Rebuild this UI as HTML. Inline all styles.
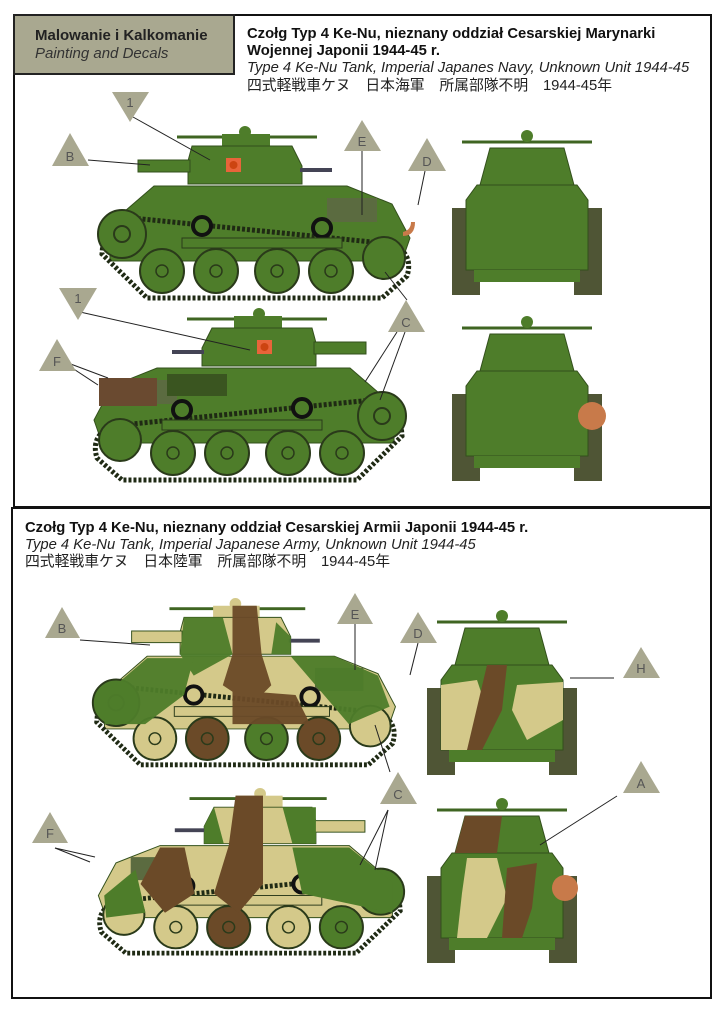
<!DOCTYPE html>
<html><head><meta charset="utf-8"><style>
html,body{margin:0;padding:0;background:#fff}
svg{display:block}
text{font-family:"Liberation Sans","Noto Sans CJK JP",sans-serif}
</style></head><body>
<svg width="724" height="1024" viewBox="0 0 724 1024" xmlns="http://www.w3.org/2000/svg">
<defs>
<g id="side">
  <line x1="85" y1="11" x2="150" y2="11" stroke="#3f6522" stroke-width="3"/>
  <line x1="165" y1="11" x2="225" y2="11" stroke="#3f6522" stroke-width="3"/>
  <circle cx="153" cy="6" r="6" fill="var(--c)"/>
  <rect x="130" y="8" width="48" height="12" fill="var(--c)"/>
  <path d="M100,20 L200,20 L210,40 L210,58 L96,58 L96,35 Z" fill="var(--c)" stroke="#33501c" stroke-width="1"/>
  <rect x="46" y="34" width="52" height="12" fill="var(--c)" stroke="#33501c" stroke-width="1"/>
  <rect x="208" y="42" width="32" height="4" fill="#445"/>
  <path d="M18,98 L62,60 L255,60 L300,78 L318,112 L310,135 L18,135 Z" fill="var(--c)" stroke="#33501c" stroke-width="1"/>
  <rect x="235" y="72" width="50" height="24" fill="#5b6b40"/>
  <path d="M12,104 Q20,85 40,92 L300,118 Q322,128 315,150 L290,172 L55,172 L10,128 Z" fill="none" stroke="#1f2a14" stroke-width="5" stroke-dasharray="3 2"/>
  <circle cx="30" cy="108" r="24" fill="var(--c2)" stroke="#2a3a1a" stroke-width="2"/>
  <circle cx="30" cy="108" r="8" fill="none" stroke="#2a3a1a" stroke-width="2"/>
  <circle cx="292" cy="132" r="21" fill="var(--c)" stroke="#2a3a1a" stroke-width="2"/>
  <circle cx="110" cy="100" r="9" fill="var(--c)" stroke="#111" stroke-width="4"/>
  <circle cx="230" cy="102" r="9" fill="var(--c)" stroke="#111" stroke-width="4"/>
  <rect x="90" y="112" width="160" height="10" fill="var(--c)" stroke="#2a3a1a" stroke-width="1"/>
  <g stroke="#2a3a1a" stroke-width="2">
   <circle cx="70" cy="145" r="22" fill="var(--w1)"/>
   <circle cx="124" cy="145" r="22" fill="var(--w2)"/>
   <circle cx="185" cy="145" r="22" fill="var(--w3)"/>
   <circle cx="239" cy="145" r="22" fill="var(--w4)"/>
  </g>
  <g fill="none" stroke="#2a3a1a" stroke-width="1.5">
   <circle cx="70" cy="145" r="6"/><circle cx="124" cy="145" r="6"/><circle cx="185" cy="145" r="6"/><circle cx="239" cy="145" r="6"/>
  </g>
</g>
<g id="front">
  <line x1="10" y1="12" x2="140" y2="12" stroke="#3f6522" stroke-width="3"/>
  <circle cx="75" cy="6" r="6" fill="var(--c)"/>
  <path d="M38,18 L112,18 L122,55 L28,55 Z" fill="var(--c)" stroke="#33501c"/>
  <rect x="0" y="78" width="28" height="87" fill="#4f5535"/>
  <rect x="122" y="78" width="28" height="87" fill="#4f5535"/>
  <path d="M25,55 L125,55 L136,70 L136,140 L14,140 L14,70 Z" fill="var(--c)" stroke="#33501c"/>
  <rect x="22" y="140" width="106" height="12" fill="var(--c)"/>
</g>
</defs>

<rect x="14" y="15" width="697" height="492" fill="none" stroke="#111" stroke-width="2"/>
<rect x="12" y="508" width="699" height="490" fill="none" stroke="#111" stroke-width="2"/>
<rect x="14" y="15" width="220" height="59" fill="#a9a890" stroke="#222" stroke-width="2"/>
<text x="35" y="40" font-size="15" font-weight="bold" fill="#222">Malowanie i Kalkomanie</text>
<text x="35" y="58" font-size="15" font-style="italic" fill="#333">Painting and Decals</text>

<text x="247" y="38" font-size="14.8" font-weight="bold" fill="#111">Czołg Typ 4 Ke-Nu, nieznany oddział Cesarskiej Marynarki</text>
<text x="247" y="55" font-size="14.8" font-weight="bold" fill="#111">Wojennej Japonii 1944-45 r.</text>
<text x="247" y="72" font-size="14.8" font-style="italic" fill="#222">Type 4 Ke-Nu Tank, Imperial Japanes Navy, Unknown Unit 1944-45</text>
<text x="247" y="90" font-size="14.8" fill="#222">四式軽戦車ケヌ　日本海軍　所属部隊不明　1944-45年</text>

<text x="25" y="532" font-size="14.8" font-weight="bold" fill="#111">Czołg Typ 4 Ke-Nu, nieznany oddział Cesarskiej Armii Japonii 1944-45 r.</text>
<text x="25" y="549" font-size="14.8" font-style="italic" fill="#222">Type 4 Ke-Nu Tank, Imperial Japanese Army, Unknown Unit 1944-45</text>
<text x="25" y="566" font-size="14.8" fill="#222">四式軽戦車ケヌ　日本陸軍　所属部隊不明　1944-45年</text>

<g transform="translate(92,126)" style="--c:#4e7d2a;--c2:#4e7d2a;--w1:#4e7d2a;--w2:#4e7d2a;--w3:#4e7d2a;--w4:#4e7d2a"><use href="#side"/>
 <rect x="134" y="32" width="15" height="14" fill="#e8643a"/><circle cx="141.5" cy="39" r="4" fill="#c41"/></g>
<g transform="translate(412,308) scale(-1,1)" style="--c:#4e7d2a;--c2:#4e7d2a;--w1:#4e7d2a;--w2:#4e7d2a;--w3:#4e7d2a;--w4:#4e7d2a"><use href="#side"/>
 <rect x="140" y="32" width="15" height="14" fill="#e8643a"/><circle cx="147.5" cy="39" r="4" fill="#c41"/>
 <rect x="255" y="70" width="58" height="28" fill="#6a4a30"/>
 <rect x="185" y="66" width="60" height="22" fill="#3a5520"/></g>
<g transform="translate(452,130)" style="--c:#4e7d2a"><use href="#front"/></g>
<g transform="translate(452,316)" style="--c:#4e7d2a"><use href="#front"/><circle cx="140" cy="100" r="14" fill="#c87a4a"/></g>
<path d="M403,232 q8,-2 8,-10 l4,0 q0,14 -12,14 z" fill="#c87a4a"/>

<g transform="translate(87,598) scale(0.97)" style="--c:#d4c98a;--c2:#4e7d2a;--w1:#d4c98a;--w2:#6b4a28;--w3:#4e7d2a;--w4:#6b4a28"><use href="#side"/>
 <g opacity="0.95">
  <path d="M100,20 L140,20 L150,58 L110,80 L96,58 Z" fill="#4e7d2a"/>
  <path d="M150,8 L175,8 L180,58 L190,90 L170,110 L140,90 L150,58 Z" fill="#6b4a28"/>
  <path d="M20,98 L62,62 L110,62 L100,100 L60,130 L18,130 Z" fill="#4e7d2a"/>
  <path d="M210,60 L255,60 L300,80 L312,112 L270,130 L240,95 Z" fill="#4e7d2a"/>
  <path d="M195,25 L210,40 L210,58 L190,58 Z" fill="#4e7d2a"/>
  <path d="M150,95 L215,100 L230,130 L150,130 Z" fill="#6b4a28"/>
 </g></g>
<g transform="translate(410,788) scale(-0.98,0.96)" style="--c:#d4c98a;--c2:#4e7d2a;--w1:#4e7d2a;--w2:#d4c98a;--w3:#6b4a28;--w4:#d4c98a"><use href="#side"/>
 <path d="M96,20 L130,20 L120,58 L96,58 Z" fill="#4e7d2a"/>
 <path d="M150,8 L178,8 L185,60 L200,110 L175,130 L150,100 Z" fill="#6b4a28"/>
 <path d="M18,98 L62,62 L120,62 L110,110 L18,130 Z" fill="#4e7d2a"/>
 <path d="M200,20 L210,40 L210,58 L190,58 Z" fill="#4e7d2a"/>
 <path d="M230,62 L255,62 L275,100 L250,130 L220,110 Z" fill="#6b4a28"/>
 <path d="M280,85 L312,112 L310,135 L270,130 Z" fill="#4e7d2a"/></g>
<g transform="translate(427,610)" style="--c:#4e7d2a"><use href="#front"/>
 <path d="M14,75 L50,70 L60,100 L40,140 L14,140 Z" fill="#d4c98a"/>
 <path d="M60,55 L80,55 L75,100 L55,140 L40,140 Z" fill="#6b4a28"/>
 <path d="M90,75 L136,72 L136,110 L100,130 L85,100 Z" fill="#d4c98a"/></g>
<g transform="translate(427,798)" style="--c:#4e7d2a"><use href="#front"/>
 <path d="M38,18 L75,18 L70,55 L28,55 Z" fill="#6b4a28"/>
 <path d="M40,60 L70,60 L80,100 L60,140 L30,140 L35,95 Z" fill="#d4c98a"/>
 <path d="M80,70 L110,65 L105,110 L95,140 L75,140 Z" fill="#6b4a28"/>
 <circle cx="138" cy="90" r="13" fill="#c87a4a"/></g>

<g stroke="#222" stroke-width="1" fill="none">
 <line x1="133" y1="117" x2="210" y2="160"/><line x1="88" y1="160" x2="150" y2="165"/>
 <line x1="362" y1="151" x2="362" y2="215"/><line x1="425" y1="171" x2="418" y2="205"/>
 <line x1="385" y1="272" x2="407" y2="300"/>
 <line x1="80" y1="312" x2="250" y2="350"/><line x1="397" y1="332" x2="365" y2="382"/><line x1="405" y1="332" x2="380" y2="400"/>
 <line x1="60" y1="360" x2="98" y2="385"/><line x1="60" y1="360" x2="108" y2="378"/>
 <line x1="80" y1="640" x2="150" y2="645"/><line x1="355" y1="624" x2="355" y2="670"/><line x1="418" y1="643" x2="410" y2="675"/>
 <line x1="570" y1="678" x2="614" y2="678"/><line x1="375" y1="725" x2="390" y2="772"/>
 <line x1="617" y1="796" x2="540" y2="845"/>
 <line x1="388" y1="810" x2="360" y2="865"/><line x1="388" y1="810" x2="375" y2="870"/>
 <line x1="55" y1="848" x2="90" y2="862"/><line x1="55" y1="848" x2="95" y2="857"/>
</g>

<g fill="#a9a890">
 <polygon points="112,92 149,92 130,122"/>
 <polygon points="52,166 89,166 70,133"/>
 <polygon points="344,151 381,151 362,120"/>
 <polygon points="408,171 446,171 427,138"/>
 <polygon points="59,288 97,288 78,320"/>
 <polygon points="388,332 425,332 406,300"/>
 <polygon points="39,371 76,371 57,339"/>
 <polygon points="45,638 80,638 62,607"/>
 <polygon points="337,624 373,624 355,593"/>
 <polygon points="400,643 437,643 418,612"/>
 <polygon points="623,678 660,678 641,647"/>
 <polygon points="380,804 417,804 398,772"/>
 <polygon points="623,793 660,793 641,761"/>
 <polygon points="32,843 68,843 50,812"/>
</g>
<g font-size="13" fill="#555" text-anchor="middle">
 <text x="130" y="107">1</text><text x="70" y="161">B</text><text x="362" y="146">E</text><text x="427" y="166">D</text>
 <text x="78" y="303">1</text><text x="406" y="327">C</text><text x="57" y="366">F</text>
 <text x="62" y="633">B</text><text x="355" y="619">E</text><text x="418" y="638">D</text><text x="641" y="673">H</text>
 <text x="398" y="799">C</text><text x="641" y="788">A</text><text x="50" y="838">F</text>
</g>
</svg>
</body></html>
